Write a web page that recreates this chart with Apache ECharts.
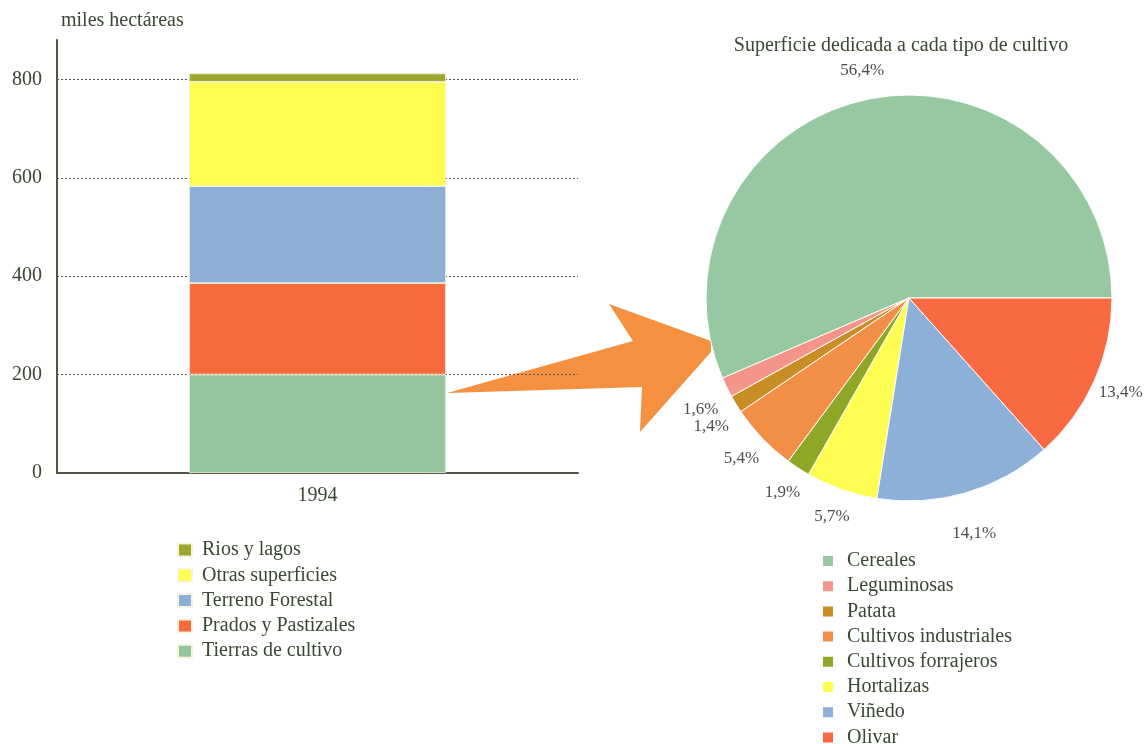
<!DOCTYPE html>
<html><head><meta charset="utf-8">
<script src="https://cdn.jsdelivr.net/npm/echarts@6/dist/echarts.min.js"></script>
<style>html,body{margin:0;padding:0;background:#fff}#c{width:1146px;height:744px}</style>
</head><body><div id="c"></div>
<script>
const years = ['1994'];
const landNames = ['Tierras de cultivo','Prados y Pastizales','Terreno Forestal','Otras superficies','Rios y lagos'];
const landValues = [200, 186, 197, 212, 17];
const landColors = ['#94c59e','#f86a3c','#8daed5','#fdfd4e','#9ca52c'];
const yTicks = [200, 400, 600, 800];

const cropNames = ['Cereales','Leguminosas','Patata','Cultivos industriales','Cultivos forrajeros','Hortalizas','Viñedo','Olivar'];
const cropValues = [56.4, 1.6, 1.4, 5.4, 1.9, 5.7, 14.1, 13.4];
const cropColors = ['#96c9a1','#f4958a','#c98d25','#f28e46','#8ea726','#fdfd52','#8db0d8','#f96a42'];

const FONT = '"Liberation Serif", "DejaVu Serif", serif';
const TXT = '#3a4733';

const chart = echarts.init(document.getElementById('c'), null, {renderer:'canvas'});

const barSeries = landNames.map((n, i) => ({
  name: n, type: 'bar', stack: 'total', barWidth: 257,
  data: [landValues[i]],
  itemStyle: {color: landColors[i], borderColor: '#f7f3dc', borderWidth: 0.8},
  emphasis: {disabled: true}, z: 3
}));

barSeries.push({
  name: 'grid', type: 'line', data: [], z: 1, silent: true,
  markLine: {
    silent: true, symbol: 'none', z: 1, label: {show: false},
    lineStyle: {type: [2, 2], color: '#555', width: 1},
    data: yTicks.map(v => ({yAxis: v}))
  }
});

const pieFmt = p => String(p.value).replace('.', ',') + '%';

const option = {
  animation: false,
  textStyle: {fontFamily: FONT},
  title: [
    {text: 'miles hectáreas', left: 61, top: 11, padding: 0, textStyle: {fontFamily: FONT, fontSize: 20, fontWeight: 'normal', color: TXT}},
    {text: 'Superficie dedicada a cada tipo de cultivo', left: 901, top: 36, padding: 0, textAlign: 'center',
     textStyle: {fontFamily: FONT, fontSize: 20, fontWeight: 'normal', color: TXT}}
  ],
  grid: {left: 57, right: 568, top: 40, bottom: 271},
  xAxis: {
    type: 'category', data: years,
    axisLine: {lineStyle: {color: '#4d5640', width: 2}},
    axisTick: {show: false},
    axisLabel: {fontFamily: FONT, fontSize: 20, color: TXT, margin: 13}
  },
  yAxis: {
    type: 'value', min: 0, max: 880, interval: 200,
    axisLine: {show: true, lineStyle: {color: '#4d5640', width: 2}},
    axisTick: {show: false},
    splitLine: {show: false},
    axisLabel: {fontFamily: FONT, fontSize: 20, color: TXT, margin: 15,
      formatter: v => (v % 200 === 0 ? String(v) : '')}
  },
  legend: [
    {
      data: landNames.slice().reverse(), orient: 'vertical', left: 177, top: 540, padding: 0,
      icon: 'rect', itemWidth: 14, itemHeight: 13, itemGap: 5.3,
      textStyle: {fontFamily: FONT, fontSize: 20, color: TXT, lineHeight: 20, padding: [0,0,0,5]},
      selectedMode: false
    },
    {
      data: cropNames, orient: 'vertical', left: 821, top: 551, padding: 0, height: 220,
      icon: 'rect', itemWidth: 12, itemHeight: 12, itemGap: 5.2,
      textStyle: {fontFamily: FONT, fontSize: 20, color: TXT, lineHeight: 20, padding: [0,0,0,8]},
      selectedMode: false
    }
  ],
  graphic: [{
    type: 'polygon', z: 1,
    shape: {points: [[447,393],[633,341],[609,304],[711,341],[711,352],[640,432],[642,387]]},
    style: {fill: '#f4903f'}
  }],
  series: barSeries.concat([
    {
      name: 'cultivos', type: 'pie', center: [909, 298], radius: 203,
      startAngle: 0, clockwise: false, z: 3,
      data: cropNames.map((n, i) => ({name: n, value: cropValues[i], itemStyle: {color: cropColors[i]}})),
      itemStyle: {borderColor: '#fff', borderWidth: 1},
      label: {show: false}, labelLine: {show: false}, emphasis: {disabled: true}
    },
    {
      name: 'etiquetas', type: 'pie', center: [909, 298], radius: [206, 252],
      startAngle: 0, clockwise: false, z: 4, silent: true,
      data: cropNames.map((n, i) => ({name: n, value: cropValues[i]})),
      itemStyle: {color: 'rgba(0,0,0,0)'},
      label: {show: true, position: 'inside', formatter: pieFmt, fontFamily: FONT, fontSize: 17, color: '#4e4e4e'},
      labelLine: {show: false}, emphasis: {disabled: true},
      labelLayout: {moveOverlap: 'shiftY'}
    }
  ])
};
chart.setOption(option);
</script></body></html>
